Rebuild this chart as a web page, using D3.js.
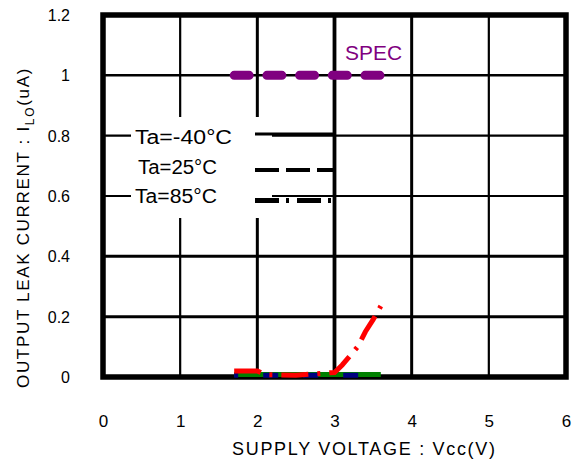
<!DOCTYPE html>
<html><head><meta charset="utf-8">
<script src="https://cdn.jsdelivr.net/npm/d3@7"></script>
<style>
html,body{margin:0;padding:0;background:#fff;}
svg{display:block;font-family:"Liberation Sans",Arial,sans-serif;}
</style></head>
<body>
<svg id="c" width="576" height="459"></svg>
<script>
// ---- data ----
const xTicks = [0, 1, 2, 3, 4, 5, 6];
const yTicks = [0, 0.2, 0.4, 0.6, 0.8, 1.0, 1.2];
const yTickLabels = ["0", "0.2", "0.4", "0.6", "0.8", "1", "1.2"];
const gridX = [1, 2, 3, 4, 5];
const gridY = [0.2, 0.4, 0.6, 0.8, 1.0];

const specV = [1.7, 3.6];
const specI = [1.0, 1.0];

const ta40V = [1.7, 2.0, 2.5, 3.0, 3.6];
const ta40I = [0.008, 0.008, 0.008, 0.008, 0.008];

const ta25V = [1.7, 2.0, 2.5, 3.0, 3.6];
const ta25I = [0.006, 0.006, 0.006, 0.006, 0.006];

const ta85V = [1.7, 2.0, 2.1, 2.5, 3.0, 3.1, 3.2, 3.3, 3.4, 3.5, 3.6];
const ta85I = [0.02, 0.02, 0.008, 0.006, 0.015, 0.04, 0.07, 0.1, 0.15, 0.19, 0.235];

const legendLabels = ["Ta=-40\u00B0C", "Ta=25\u00B0C", "Ta=85\u00B0C"];
const xTitle = "SUPPLY VOLTAGE : Vcc(V)";

// ---- layout ----
const svg = d3.select("#c");
const L = 103, R = 566, T = 15, B = 377;
const x = d3.scaleLinear().domain([0, 6]).range([L, R]);
const y = d3.scaleLinear().domain([0, 1.2]).range([B, T]);

// grid
const gxW = [2.2, 3, 3.8, 3, 2.2];
const gyW = [3, 3, 2.2, 2.2, 2.5];
const g = svg.append("g");
g.selectAll("line.gx").data(gridX).join("line")
  .attr("x1", d => x(d)).attr("x2", d => x(d)).attr("y1", T).attr("y2", B)
  .attr("stroke", "#000").attr("stroke-width", (d, i) => gxW[i]);
g.selectAll("line.gy").data(gridY).join("line")
  .attr("y1", d => y(d)).attr("y2", d => y(d)).attr("x1", L).attr("x2", R)
  .attr("stroke", "#000").attr("stroke-width", (d, i) => gyW[i]);

// legend box (white) covering grid
svg.append("rect").attr("x", 131).attr("y", 117).attr("width", 141).attr("height", 101).attr("fill", "#fff");

// frame
svg.append("rect").attr("x", L).attr("y", T).attr("width", R - L).attr("height", B - T)
  .attr("fill", "none").attr("stroke", "#000").attr("stroke-width", 5.5);

// axes labels
const xAxis = d3.axisBottom(x).tickValues(xTicks).tickSize(0).tickPadding(0).tickFormat(d3.format("d"));
const xa = svg.append("g").attr("transform", `translate(0,${B})`).call(xAxis);
xa.select(".domain").remove();
xa.selectAll("text").attr("font-size", 17).attr("fill", "#000")
  .attr("font-family", "'Liberation Sans',Arial,sans-serif").attr("dy", null).attr("y", 50);

const yAxis = d3.axisLeft(y).tickValues(yTicks).tickSize(0).tickPadding(0)
  .tickFormat((d, i) => yTickLabels[i]);
const ya = svg.append("g").attr("transform", `translate(${L - 33},0)`).call(yAxis);
ya.select(".domain").remove();
ya.selectAll("text").attr("font-size", 16).attr("fill", "#000")
  .attr("font-family", "'Liberation Sans',Arial,sans-serif").attr("dy", "0.35em");

// x title
svg.append("text").attr("x", 232).attr("y", 455).attr("font-size", 18)
  .attr("textLength", 263).attr("lengthAdjust", "spacing").text(xTitle);

// y title (rotated)
const yt = svg.append("text").attr("transform", "translate(29,388) rotate(-90)")
  .attr("font-size", 17);
yt.append("tspan").text("OUTPUT LEAK CURRENT : I");
yt.append("tspan").attr("font-size", 12).attr("dy", 5).text("LO");
yt.append("tspan").attr("dy", -5).text("(uA)");
{
  const len = yt.node().getComputedTextLength();
  const n = "OUTPUT LEAK CURRENT : ILO(uA)".length;
  yt.attr("letter-spacing", ((321 - len) / n).toFixed(2));
}

// legend texts
const legX = [135, 138, 135];
const legY = [143.5, 174, 203];
const legW = [97, 79, 82];
svg.selectAll("text.leg").data(legendLabels).join("text").attr("class", "leg")
  .attr("x", (d, i) => legX[i]).attr("y", (d, i) => legY[i])
  .attr("font-size", 20).attr("textLength", (d, i) => legW[i]).attr("lengthAdjust", "spacingAndGlyphs")
  .text(d => d);

// legend samples
const sampY = [134, 170, 200.5];
const styles = [
  { dash: null, w: 3 },
  { dash: "24 7", w: 4 },
  { dash: "24 7 3 8", w: 5 }
];
styles.forEach((s, i) => {
  svg.append("line").attr("x1", 255).attr("x2", x(3) - 1).attr("y1", sampY[i]).attr("y2", sampY[i])
    .attr("stroke", "#000").attr("stroke-width", s.w).attr("stroke-dasharray", s.dash);
});

// series
const line = d3.line().x(d => x(d[0])).y(d => y(d[1]));
const zip = (a, b) => a.map((v, i) => [v, b[i]]);

svg.append("path").datum(zip(ta40V, ta40I)).attr("d", line)
  .attr("fill", "none").attr("stroke", "#008000").attr("stroke-width", 5);
svg.append("path").datum(zip(ta25V, ta25I)).attr("d", line)
  .attr("fill", "none").attr("stroke", "#000080").attr("stroke-width", 5)
  .attr("stroke-dasharray", "15 25").attr("stroke-dashoffset", 11);
svg.append("path").datum(zip(ta85V, ta85I)).attr("d", line)
  .attr("fill", "none").attr("stroke", "#ff0000").attr("stroke-width", 5)
  .attr("stroke-dasharray", "27 9 3 9");

// spec
svg.append("path").datum(zip(specV, specI)).attr("d", line)
  .attr("fill", "none").attr("stroke", "#800080").attr("stroke-width", 9)
  .attr("stroke-linecap", "round").attr("stroke-dasharray", "15 17.7");
svg.append("text").attr("x", 345).attr("y", 60).attr("font-size", 21).attr("fill", "#800080")
  .attr("textLength", 57).attr("lengthAdjust", "spacingAndGlyphs").text("SPEC");
</script>
</body></html>
